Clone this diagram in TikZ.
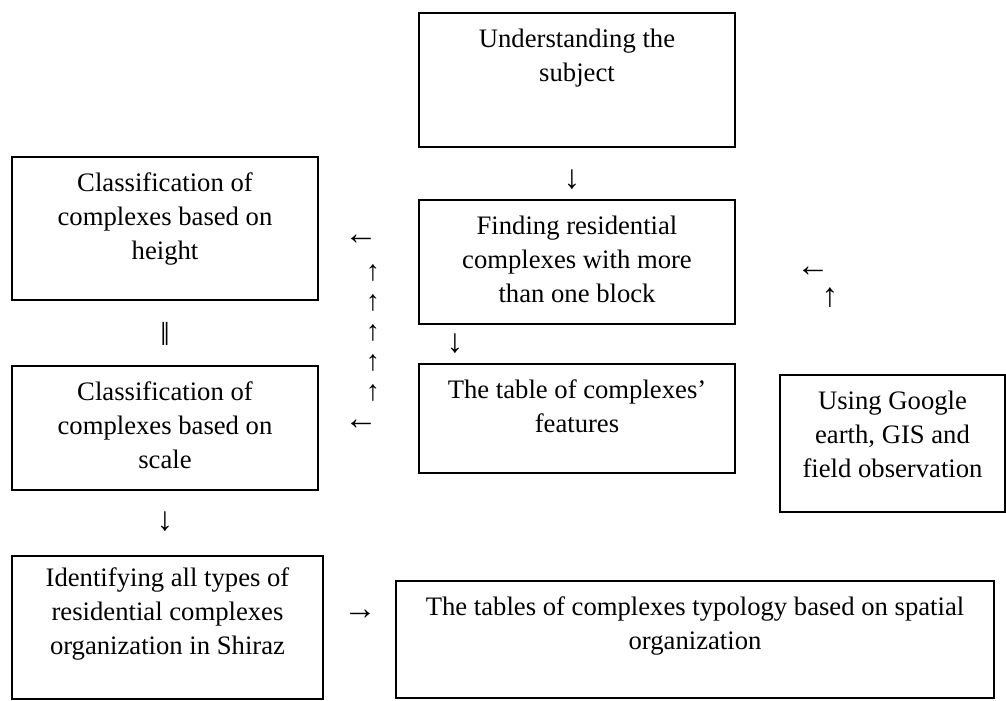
\documentclass[tikz,border=0pt]{standalone}
\usepackage{fontspec}
\setmainfont{Liberation Serif}
\usetikzlibrary{positioning,fit}

\begin{document}
\begin{tikzpicture}[
    x=0.6pt, y=-0.6pt,
    stage/.style={draw, line width=1pt, inner sep=0pt},
    caption/.style={anchor=north, align=center, inner sep=0pt,
        font=\fontsize{16}{20.4}\selectfont},
    sign/.style={inner sep=0pt, font=\fontsize{20}{20}\selectfont},
    upsign/.style={inner sep=0pt, font=\fontsize{17}{17}\selectfont}
]
\useasboundingbox (0,0) rectangle (1006,700);

% boxes
\node[stage, fit={(419,13) (735,147)}] (subj) {};
\node[stage, fit={(419,200) (735,324)}] (find) {};
\node[stage, fit={(419,364) (735,473)}] (feat) {};
\node[stage, fit={(12,157) (318,300)}] (height) {};
\node[stage, fit={(12,366) (318,490)}] (scale) {};
\node[stage, fit={(780,375) (1005,512)}] (tools) {};
\node[stage, fit={(12,556) (323,699)}] (ident) {};
\node[stage, fit={(396,581) (994,698)}] (tables) {};

% texts
\node[caption, below=9.6pt of subj.north] {Understanding the\\subject};
\node[caption, below=9.6pt of find.north] {Finding residential\\complexes with more\\than one block};
\node[caption, below=9.6pt of feat.north] {The table of complexes’\\features};
\node[caption, below=9.6pt of height.north] {Classification of\\complexes based on\\height};
\node[caption, below=9.6pt of scale.north] {Classification of\\complexes based on\\scale};
\node[caption, below=9.6pt of tools.north] {Using Google\\earth, GIS and\\field observation};
\node[caption, below=7.2pt of ident.north] {Identifying all types of\\residential complexes\\organization in Shiraz};
\node[caption, below=9.6pt of tables.north] {The tables of complexes typology based on spatial\\organization};

% arrow signs
\node[sign] (s1) at (572,180) {↓};
\node[sign] (s2) at (455,344) {↓};
\node[sign] (s3) at (361,240) {←};
\foreach \y [count=\i] in {273,303,333,363,393}
    \node[upsign] (up\i) at (373,\y) {↑};
\node[sign] (s4) at (361,425) {←};
\node[sign] (s5) at (165,334) {‖};
\node[sign] (s6) at (165,522) {↓};
\node[sign] (s7) at (360,615) {→};
\node[sign] (s8) at (813,272) {←};
\node[sign] (s9) at (830,298) {↑};
\end{tikzpicture}
\end{document}
